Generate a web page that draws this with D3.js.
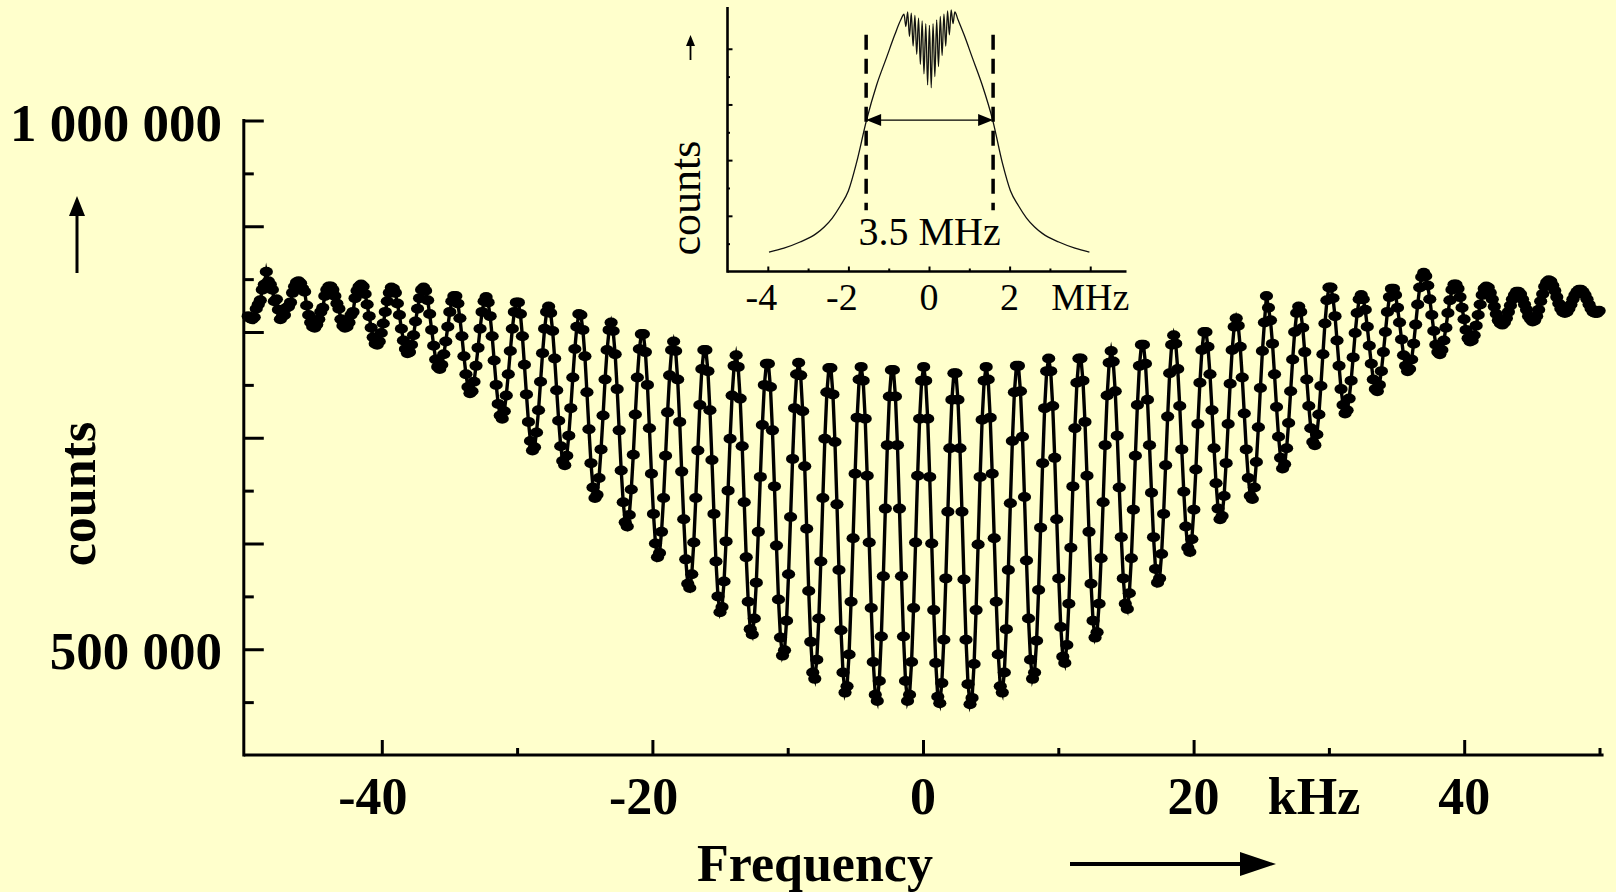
<!DOCTYPE html>
<html>
<head>
<meta charset="utf-8">
<script src="https://cdn.jsdelivr.net/npm/d3@7/dist/d3.min.js"></script>
<style>
body { margin: 0; background: #ffffcc; }
svg { display: block; }
text { font-family: "Liberation Serif", "Times New Roman", serif; fill: #000; }
</style>
</head>
<body>
<svg id="chart" width="1616" height="892"></svg>
<script>
// scan grid of the fringe measurement (kHz)
var freqStart = -49.876
var freqStep = 0.14903
// counts per scan point, in thousands, one row per two fringes
var counts = [
  815, 813, 812, 814, 822, 826, 830, 840, 845, 857, 848, 845, 840, 829, 831, 821, 812, 815, 816, 823, 824, 828, 837, 843, 847,
  848, 846, 841, 838, 825, 816, 809, 805, 804, 807, 812, 819, 823, 834, 840, 843, 843, 840, 834, 827, 822, 812, 806, 804, 805, 809, 816, 819, 832, 839, 843,
  845, 843, 836, 826, 815, 804, 795, 789, 788, 791, 799, 808, 819, 829, 837, 842, 841, 837, 827, 816, 803, 792, 784, 780, 781, 788, 797, 810, 822, 832, 840,
  842, 839, 830, 817, 802, 787, 774, 767, 765, 769, 779, 791, 805, 819, 829, 834, 834, 827, 813, 796, 777, 760, 748, 742, 744, 753, 768, 785, 803, 819, 829,
  833, 828, 815, 796, 773, 750, 732, 721, 718, 725, 740, 760, 782, 803, 819, 828, 828, 817, 796, 769, 741, 715, 697, 688, 691, 705, 726, 753, 780, 803, 819,
  824, 818, 801, 775, 745, 716, 692, 678, 674, 683, 702, 728, 757, 784, 805, 817, 816, 802, 777, 743, 708, 676, 653, 643, 646, 662, 689, 721, 755, 783, 802,
  809, 801, 779, 746, 707, 669, 639, 620, 616, 627, 651, 684, 722, 757, 784, 798, 798, 781, 750, 709, 666, 628, 600, 587, 591, 611, 643, 683, 724, 759, 783,
  791, 782, 755, 715, 668, 623, 585, 562, 558, 571, 601, 643, 688, 731, 765, 783, 783, 763, 726, 679, 628, 583, 550, 535, 540, 564, 602, 650, 699, 740, 768,
  778, 767, 737, 692, 639, 587, 545, 519, 514, 529, 563, 611, 663, 712, 750, 770, 770, 748, 707, 654, 598, 547, 511, 494, 499, 527, 571, 625, 680, 728, 760,
  771, 759, 725, 673, 614, 555, 507, 478, 472, 490, 529, 583, 643, 699, 743, 766, 766, 741, 696, 637, 575, 518, 478, 459, 465, 495, 545, 605, 666, 719, 755,
  767, 754, 718, 664, 601, 539, 488, 457, 451, 470, 512, 569, 633, 693, 739, 764, 764, 739, 693, 633, 569, 512, 470, 451, 457, 488, 539, 601, 664, 718, 754,
  767, 754, 718, 663, 600, 537, 487, 455, 449, 468, 509, 567, 630, 690, 736, 761, 761, 736, 690, 630, 566, 509, 467, 448, 454, 486, 537, 599, 663, 717, 754,
  767, 755, 719, 666, 605, 545, 495, 465, 459, 478, 519, 575, 638, 697, 743, 768, 768, 744, 701, 644, 584, 529, 490, 472, 478, 508, 556, 615, 676, 728, 763,
  775, 763, 730, 681, 623, 567, 521, 493, 487, 504, 543, 596, 654, 709, 752, 775, 775, 754, 715, 664, 611, 562, 527, 511, 516, 543, 586, 639, 693, 740, 771,
  782, 772, 744, 702, 653, 606, 567, 543, 538, 553, 586, 632, 683, 731, 768, 788, 788, 770, 736, 693, 648, 606, 576, 563, 567, 590, 628, 674, 720, 761, 788,
  797, 789, 765, 730, 689, 649, 616, 596, 592, 604, 632, 670, 713, 752, 783, 800, 800, 786, 760, 726, 690, 657, 633, 623, 626, 645, 676, 713, 751, 783, 805,
  813, 806, 786, 757, 723, 689, 662, 645, 642, 653, 677, 710, 747, 782, 809, 834, 823, 811, 789, 760, 729, 701, 681, 671, 675, 690, 714, 744, 774, 800, 818,
  824, 819, 804, 781, 755, 730, 709, 696, 693, 703, 722, 749, 779, 808, 830, 842, 842, 832, 815, 792, 768, 746, 731, 723, 726, 737, 754, 776, 799, 818, 831,
  835, 831, 821, 805, 787, 770, 755, 746, 744, 750, 763, 781, 800, 819, 833, 841, 841, 835, 823, 809, 793, 778, 768, 763, 765, 774, 789, 807, 826, 842, 852,
  856, 853, 844, 831, 816, 801, 788, 781, 779, 783, 792, 804, 818, 830, 840, 845, 845, 841, 833, 823, 812, 802, 794, 791, 792, 797, 806, 816, 826, 835, 841,
  843, 842, 837, 831, 824, 817, 811, 808, 807, 809, 813, 819, 825, 831, 835, 838, 838, 836, 831, 826, 821, 815, 812, 810, 811, 815, 821, 829, 836, 843, 847,
  849, 848, 844, 839, 833, 827, 822, 819, 818, 819, 822, 826, 831, 835, 838, 840, 840, 838, 835, 831, 826, 822, 819, 818, 818, 820
]
var xMajor = [-40, -20, 0, 20, 40]
var xMinor = [-30, -10, 10, 30, 50]
var yMajor = [500, 600, 700, 800, 900, 1000]
var yMinor = [450, 550, 650, 750, 850, 950]
var yLabelVals = [1000, 500]
var yLabelText = ['1 000 000', '500 000']

// inset: full line profile (MHz, arbitrary counts)
var insetFreq = [-3.97, -3.6, -3.2, -2.8, -2.6, -2.4, -2.2, -2.0, -1.8, -1.55, -1.3, -1.05, -0.85, -0.7,
  -0.62, -0.575, -0.53, -0.485, -0.44, -0.395, -0.35, -0.305, -0.26, -0.215, -0.17, -0.125, -0.08, -0.035, 0.01,
  0.055, 0.10, 0.145, 0.19, 0.235, 0.28, 0.325, 0.37, 0.415, 0.46, 0.505, 0.55, 0.595, 0.64,
  0.72, 0.87, 1.07, 1.32, 1.58, 1.82, 2.02, 2.22, 2.42, 2.62, 2.82, 3.22, 3.62, 3.98]
var insetCounts = [0.35, 0.42, 0.53, 0.68, 0.80, 0.96, 1.18, 1.45, 1.95, 2.72, 3.35, 3.85, 4.25, 4.52,
  4.62, 4.40, 4.66, 4.22, 4.64, 4.05, 4.60, 3.90, 4.55, 3.72, 4.50, 3.55, 4.45, 3.35, 4.42,
  3.30, 4.45, 3.50, 4.52, 3.68, 4.58, 3.88, 4.62, 4.05, 4.68, 4.25, 4.70, 4.45, 4.66,
  4.52, 4.25, 3.85, 3.35, 2.72, 1.95, 1.45, 1.18, 0.96, 0.80, 0.68, 0.53, 0.42, 0.35]
var insetXTicks = [-4, -2, 0, 2, 4]
var insetXLabels = ['-4', '-2', '0', '2', 'MHz']
var insetXMinor = [-3, -1, 1, 3]
var insetYTicks = [1, 2, 3, 4]
var insetYMinor = [0.5, 1.5, 2.5, 3.5]
var fwhmEdges = [-1.56, 1.59]
var fwhmLevel = 2.72
var fwhmText = '3.5 MHz'

var svg = d3.select('#chart')

// ---------- main plot ----------
var x = d3.scaleLinear().domain([-50, 50]).range([246.5, 1599.5])
var y = d3.scaleLinear().domain([400, 1000]).range([755, 120.5])

var pts = counts.map(function (c, i) { return [freqStart + i * freqStep, c] })

svg.append('path')
    .datum(pts)
    .attr('d', d3.line().x(function (d) { return x(d[0]) }).y(function (d) { return y(d[1]) }))
    .attr('fill', 'none')
    .attr('stroke', '#000')
    .attr('stroke-width', 3.4)
    .attr('stroke-linejoin', 'miter')
    .attr('stroke-miterlimit', 6)

svg.append('g').selectAll('ellipse')
    .data(pts)
    .enter().append('ellipse')
    .attr('cx', function (d) { return x(d[0]) })
    .attr('cy', function (d) { return y(d[1]) })
    .attr('rx', 6.6)
    .attr('ry', 5)
    .attr('fill', '#000')

// axes
var gx = svg.append('g').attr('transform', 'translate(0,' + y(400) + ')')
gx.call(d3.axisBottom(x).tickValues(xMajor).tickSize(-15).tickSizeOuter(0).tickFormat(''))
gx.append('g').call(d3.axisBottom(x).tickValues(xMinor).tickSize(-7).tickSizeOuter(0).tickFormat(''))
gx.selectAll('.domain').remove()
gx.selectAll('line').attr('stroke', '#000').attr('stroke-width', 3)

var gy = svg.append('g').attr('transform', 'translate(' + x(-50.2) + ',0)')
gy.call(d3.axisLeft(y).tickValues(yMajor).tickSize(-20).tickSizeOuter(0).tickFormat(''))
gy.append('g').call(d3.axisLeft(y).tickValues(yMinor).tickSize(-10).tickSizeOuter(0).tickFormat(''))
gy.selectAll('.domain').remove()
gy.selectAll('line').attr('stroke', '#000').attr('stroke-width', 3)

svg.append('line')
    .attr('x1', x(-50.2)).attr('x2', x(50.3)).attr('y1', y(400)).attr('y2', y(400))
    .attr('stroke', '#000').attr('stroke-width', 3)
svg.append('line')
    .attr('x1', x(-50.2)).attr('x2', x(-50.2)).attr('y1', y(1000) - 1.5).attr('y2', y(400) + 1.5)
    .attr('stroke', '#000').attr('stroke-width', 3)

// labels
svg.append('g').selectAll('text')
    .data(xMajor)
    .enter().append('text')
    .attr('x', function (d) { return x(d) })
    .attr('y', y(400) + 59)
    .attr('dx', function (d) { return d < 0 ? '-0.17em' : 0 })
    .attr('text-anchor', 'middle')
    .attr('font-size', 52)
    .attr('font-weight', 'bold')
    .text(function (d) { return d })

svg.append('g').selectAll('text')
    .data(yLabelVals)
    .enter().append('text')
    .attr('x', 222)
    .attr('y', function (d) { return y(d) + 20 })
    .attr('text-anchor', 'end')
    .attr('font-size', 53)
    .attr('font-weight', 'bold')
    .text(function (d, i) { return yLabelText[i] })

svg.append('text').attr('x', 1314).attr('y', y(400) + 59).attr('text-anchor', 'middle')
    .attr('font-size', 52).attr('font-weight', 'bold').text('kHz')
svg.append('text').attr('x', 815).attr('y', 881).attr('text-anchor', 'middle')
    .attr('font-size', 52).attr('font-weight', 'bold').text('Frequency')
svg.append('text').attr('transform', 'translate(95,494) rotate(-90)').attr('text-anchor', 'middle')
    .attr('font-size', 52).attr('font-weight', 'bold').text('counts')

// arrows
svg.append('line').attr('x1', 77).attr('x2', 77).attr('y1', 273).attr('y2', 212)
    .attr('stroke', '#000').attr('stroke-width', 3)
svg.append('path').attr('d', 'M77,196 L69,216 L85,216 Z').attr('fill', '#000')
svg.append('line').attr('x1', 1070).attr('x2', 1245).attr('y1', 864).attr('y2', 864)
    .attr('stroke', '#000').attr('stroke-width', 4)
svg.append('path').attr('d', 'M1276,864 L1240,852 L1240,876 Z').attr('fill', '#000')

// ---------- inset ----------
var ix = d3.scaleLinear().domain([-5, 4.9]).range([727.5, 1126.5])
var iy = d3.scaleLinear().domain([0, 4.75]).range([271.5, 7])

svg.append('path')
    .datum(insetFreq.map(function (f, i) { return [f, insetCounts[i]] }))
    .attr('d', d3.line().x(function (d) { return ix(d[0]) }).y(function (d) { return iy(d[1]) }).curve(d3.curveMonotoneX))
    .attr('fill', 'none')
    .attr('stroke', '#111')
    .attr('stroke-width', 1.3)

var igx = svg.append('g').attr('transform', 'translate(0,' + iy(0) + ')')
igx.call(d3.axisBottom(ix).tickValues(insetXTicks).tickSize(-5).tickSizeOuter(0).tickFormat(''))
igx.append('g').call(d3.axisBottom(ix).tickValues(insetXMinor).tickSize(-3).tickSizeOuter(0).tickFormat(''))
igx.selectAll('.domain').remove()
igx.selectAll('line').attr('stroke', '#000').attr('stroke-width', 2)

var igy = svg.append('g').attr('transform', 'translate(' + ix(-5) + ',0)')
igy.call(d3.axisLeft(iy).tickValues(insetYTicks).tickSize(-5).tickSizeOuter(0).tickFormat(''))
igy.append('g').call(d3.axisLeft(iy).tickValues(insetYMinor).tickSize(-2.5).tickSizeOuter(0).tickFormat(''))
igy.selectAll('.domain').remove()
igy.selectAll('line').attr('stroke', '#000').attr('stroke-width', 2)

svg.append('line').attr('x1', ix(-5)).attr('x2', ix(4.9)).attr('y1', iy(0)).attr('y2', iy(0))
    .attr('stroke', '#000').attr('stroke-width', 2.6)
svg.append('line').attr('x1', ix(-5)).attr('x2', ix(-5)).attr('y1', iy(4.75)).attr('y2', iy(0) + 1.3)
    .attr('stroke', '#000').attr('stroke-width', 2.6)

svg.append('g').selectAll('text')
    .data(insetXTicks)
    .enter().append('text')
    .attr('x', function (d) { return ix(d) })
    .attr('y', iy(0) + 38)
    .attr('dx', function (d) { return d < 0 ? '-0.17em' : 0 })
    .attr('text-anchor', 'middle')
    .attr('font-size', 38)
    .text(function (d, i) { return insetXLabels[i] })

svg.append('text').attr('transform', 'translate(700,198) rotate(-90)').attr('text-anchor', 'middle')
    .attr('font-size', 44).text('counts')
svg.append('line').attr('x1', 690.5).attr('x2', 690.5).attr('y1', 60).attr('y2', 44)
    .attr('stroke', '#000').attr('stroke-width', 1.8)
svg.append('path').attr('d', 'M690.5,35 L686,46 L695,46 Z').attr('fill', '#000')

// FWHM markers
svg.append('g').selectAll('line')
    .data(fwhmEdges)
    .enter().append('line')
    .attr('x1', function (d) { return ix(d) }).attr('x2', function (d) { return ix(d) })
    .attr('y1', iy(4.25)).attr('y2', iy(1.1))
    .attr('stroke', '#000').attr('stroke-width', 3.5)
    .attr('stroke-dasharray', '15,9')

var ay = iy(fwhmLevel)
svg.append('line').attr('x1', ix(fwhmEdges[0]) + 12).attr('x2', ix(fwhmEdges[1]) - 12)
    .attr('y1', ay).attr('y2', ay).attr('stroke', '#000').attr('stroke-width', 1.2)
svg.append('path')
    .attr('d', 'M' + ix(fwhmEdges[0]) + ',' + ay + ' l15,-6 l0,12 Z')
    .attr('fill', '#000')
svg.append('path')
    .attr('d', 'M' + ix(fwhmEdges[1]) + ',' + ay + ' l-15,-6 l0,12 Z')
    .attr('fill', '#000')
svg.append('text').attr('x', ix((fwhmEdges[0] + fwhmEdges[1]) / 2)).attr('y', 245)
    .attr('text-anchor', 'middle').attr('font-size', 40).text(fwhmText)
</script>
</body>
</html>
